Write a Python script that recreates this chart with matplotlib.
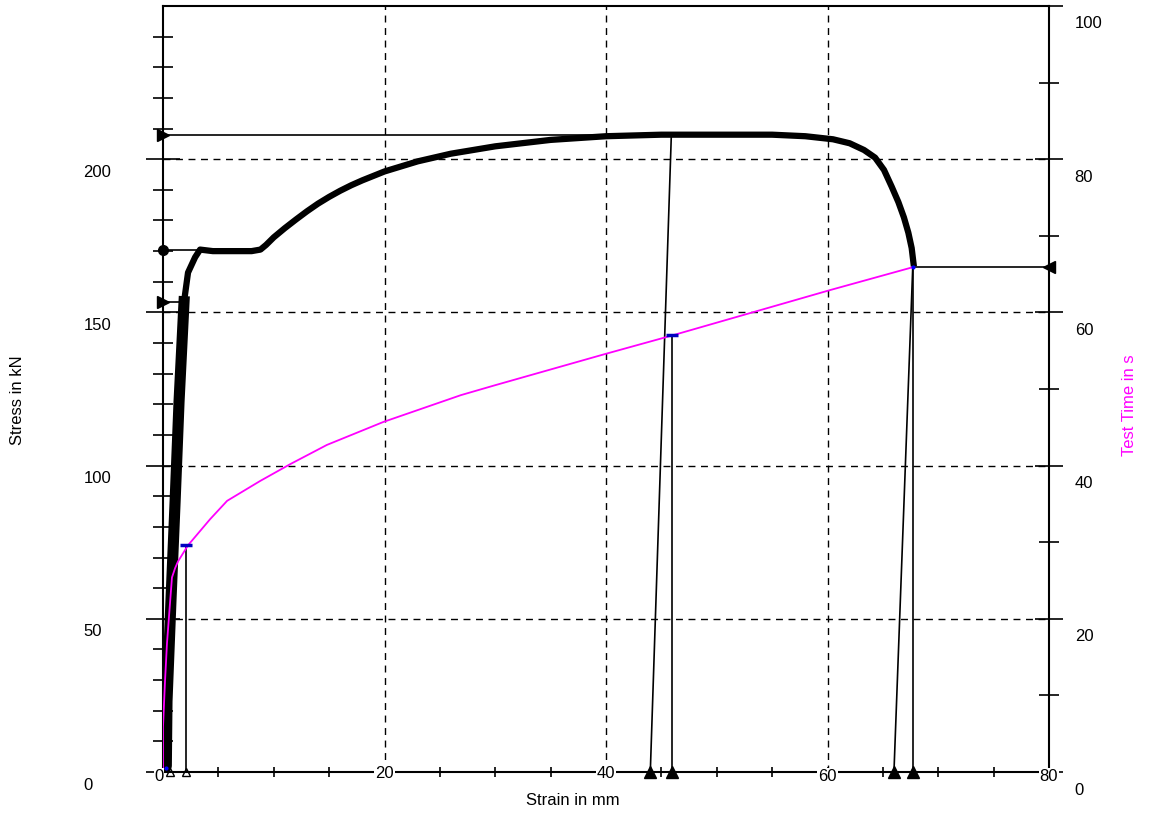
import matplotlib.pyplot as plt
import matplotlib.transforms as mtransforms
from matplotlib.ticker import FixedLocator

# stress-strain curve (strain in mm, stress in kN)
strain = [0, 0.3, 0.36, 0.72, 1.09, 1.45, 1.9, 2.26, 2.9, 3.35, 4.5, 6, 7, 8, 8.8,
          9.3, 10, 11, 12, 13, 14, 15, 16, 17, 18, 20, 23, 26, 30, 35, 40, 45, 50, 55, 58,
          60.5, 62, 63.3, 64.3, 65.1, 65.8, 66.4, 66.9, 67.3, 67.6, 67.8]
stress = [0, 2, 23, 56, 88, 121, 153.5, 163, 168, 170.5, 170, 170, 170, 170, 170.5,
          172, 174.5, 177.5, 180.3, 183, 185.5, 187.7, 189.7, 191.5, 193.1, 196, 199.3, 201.8, 204.2, 206.3,
          207.5, 208, 208, 208, 207.5,
          206.5, 205.2, 203, 200.5, 196.5, 191, 186, 181, 176, 171, 165]
n_elastic = 7

# test time vs strain
time_strain = [0, 0.0, 0.18, 0.36, 0.63, 0.81, 1.09, 1.36, 2.26, 4.25, 5.79, 8.78, 11.5,
               14.8, 19.9, 26.9, 30, 40, 46.0, 60.2, 67.7]
test_time = [0, 5.9, 11.8, 16.8, 22.0, 25.4, 26.6, 27.5, 29.6, 33.0, 35.4, 38.0, 40.2,
             42.7, 45.7, 49.2, 50.5, 54.6, 57.0, 62.9, 65.9]

# evaluation points
fmax_strain, fmax, fmax_plastic = 45.9, 208, 44.0
break_strain, break_stress, break_plastic = 67.7, 165, 66.0
reh_strain, reh = 3.35, 170.5
rp_strain, rp = 1.9, 153.5
tmark_strain = [2.1, 46.0]
tmark_time = [29.6, 57.0]
t_end = 65.9

left_ticks = [0, 50, 100, 150, 200]
right_ticks = [0, 20, 40, 60, 80, 100]
x_ticks = [0, 20, 40, 60, 80]

MAG = '#ff00ff'
FONT = 'Liberation Sans'

fig = plt.figure(figsize=(11.49, 8.13), dpi=100)
ax = fig.add_axes([163 / 1149, 1 - 772 / 813, 886 / 1149, 766 / 813])
ax2 = ax.twinx()

ax.set_xlim(0, 80)
ax.set_ylim(0, 250)
ax2.set_ylim(0, 100)

# grid
for gx in [20, 40, 60]:
    ax.axvline(gx, color='black', lw=1.0, ls=(0, (5, 4)), zorder=1)
for gy in [50, 100, 150, 200]:
    ax.axhline(gy, color='black', lw=1.0, ls=(0, (5, 4)), zorder=1)

# stress curve
ax.plot(strain, stress, color='black', lw=4.5, solid_capstyle='butt', zorder=3)
ax.plot(strain[:n_elastic], stress[:n_elastic], color='black', lw=8, zorder=3)

# evaluation lines
lw = 1.2
ax.plot([0, fmax_strain], [fmax, fmax], color='black', lw=lw, zorder=3)
ax.plot([0, reh_strain], [reh, reh], color='black', lw=lw, zorder=3)
ax.plot([0, rp_strain], [rp, rp], color='black', lw=lw, zorder=3)
ax.plot([fmax_strain, fmax_plastic], [fmax, 0], color='black', lw=lw, zorder=3)
ax.plot([break_strain, break_plastic], [break_stress, 0], color='black', lw=lw, zorder=3)
ax.plot([break_strain, break_strain], [break_stress, 0], color='black', lw=lw, zorder=3)

ax.plot([0, 0], [fmax, rp], ls='', marker='>', ms=8, color='black', clip_on=False, zorder=4)
ax.plot([0], [reh], ls='', marker='o', ms=7, color='black', clip_on=False, zorder=4)
ax.plot([fmax_plastic, fmax_strain + 0.1, break_plastic, break_strain], [0, 0, 0, 0],
        ls='', marker='^', ms=8, color='black', clip_on=False, zorder=4)
ax.plot([0.6, 2.1], [0, 0], ls='', marker='^', ms=6, mfc='none', mec='black', clip_on=False, zorder=4)

# time curve
ax2.plot(time_strain, test_time, color=MAG, lw=1.3, zorder=3)
for xs, ts in zip(tmark_strain, tmark_time):
    ax2.plot([xs, xs], [ts, 0], color='black', lw=lw, zorder=2)
ax2.plot(tmark_strain, tmark_time, ls='', marker='_', ms=9, mew=2.5, color='#0000c0', zorder=4)
ax2.plot([time_strain[-1], 80], [t_end, t_end], color='black', lw=lw, zorder=2)
ax2.plot([80], [t_end], ls='', marker='<', ms=8, color='black', clip_on=False, zorder=4)
ax2.plot([0.3, time_strain[-1]], [0.5, t_end], ls='', marker='.', ms=4, color='blue', zorder=4)

# spines and ticks
for a in (ax, ax2):
    for s in a.spines.values():
        s.set_linewidth(1.5)
ax.spines['right'].set_visible(False)
for s in ['left', 'top', 'bottom']:
    ax2.spines[s].set_visible(False)

ax.xaxis.set_major_locator(FixedLocator([20, 40, 60]))
ax.xaxis.set_minor_locator(FixedLocator([v for v in range(5, 80, 5) if v % 20]))
ax.yaxis.set_major_locator(FixedLocator(left_ticks))
ax.yaxis.set_minor_locator(FixedLocator([v for v in range(10, 250, 10) if v % 50]))
ax2.yaxis.set_major_locator(FixedLocator(right_ticks))
ax2.yaxis.set_minor_locator(FixedLocator(range(10, 100, 20)))

ax.tick_params(axis='x', which='both', direction='inout', length=7, width=1.2,
               labelbottom=False, top=False)
ax.tick_params(axis='y', which='major', direction='inout', length=24, width=1.2, labelleft=False)
ax.tick_params(axis='y', which='minor', direction='inout', length=14, width=1.2)
ax2.tick_params(axis='y', which='major', direction='inout', length=20, width=1.2, labelright=False)
ax2.tick_params(axis='y', which='minor', direction='inout', length=15, width=1.2)

# tick labels
def shifted(tr, dx, dy):
    return tr + mtransforms.ScaledTranslation(dx / 100, dy / 100, fig.dpi_scale_trans)

for v in left_ticks:
    ax2.text(-0.09, v, str(v), transform=shifted(ax.get_yaxis_transform(), 0, -13),
             ha='left', va='center', fontsize=12, family=FONT, clip_on=False)
for v in right_ticks:
    ax2.text(1.029, v, str(v), transform=shifted(ax2.get_yaxis_transform(), 0, -18),
             ha='left', va='center', fontsize=12, family=FONT, clip_on=False)
for v in x_ticks:
    dy = -4 if v in (0, 60, 80) else -1
    dx = -4 if v == 0 else 0
    ax2.text(v, 0, str(v), transform=shifted(ax.get_xaxis_transform(), dx, dy),
             ha='center', va='center', fontsize=12, family=FONT, clip_on=False, zorder=10,
             bbox=dict(boxstyle='square,pad=0.05', fc='white', ec='none'))

fig.text(18 / 1149, 1 - 400 / 813, 'Stress in kN', rotation=90, ha='center', va='center',
         fontsize=12, family=FONT)
fig.text(573 / 1149, 1 - 800 / 813, 'Strain in mm', ha='center', va='center',
         fontsize=12, family=FONT)
fig.text(1130 / 1149, 1 - 405 / 813, 'Test Time in s', rotation=90, ha='center', va='center',
         fontsize=12, family=FONT, color=MAG)

fig.savefig('out.png', dpi=100)
